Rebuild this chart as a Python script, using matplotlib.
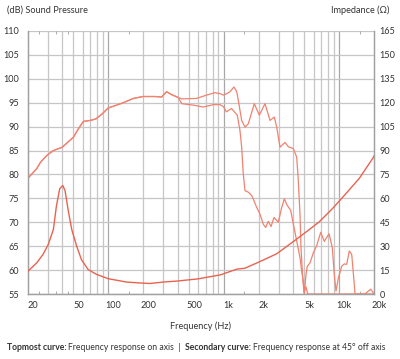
import matplotlib
matplotlib.use("Agg")
import matplotlib.pyplot as plt
import matplotlib.transforms as mtransforms
import numpy as np

# ---------------- data ----------------
freq_on = [20, 24, 26, 29.5, 33.5, 40, 50, 55, 61, 70, 78, 88, 100, 118, 135, 165, 200, 253,
           290, 320, 353, 404, 433, 583, 712, 840, 928, 992, 1061, 1133, 1227, 1295, 1337,
           1430, 1528, 1632, 1839, 2032, 2276, 2516, 2740, 2876, 3070, 3392, 3622, 4004,
           4284, 4422, 4574, 4667, 4828, 4954, 5156, 5334, 20000]
spl_on = [79.1, 81.2, 82.6, 84.0, 85.0, 85.7, 87.8, 89.5, 91.1, 91.3, 91.6, 92.6, 93.9, 94.5,
          95.0, 95.9, 96.3, 96.3, 96.2, 97.3, 96.7, 96.1, 95.8, 95.9, 96.6, 97.1, 96.9, 96.6,
          96.9, 97.3, 98.3, 97.3, 95.5, 91.3, 89.9, 90.6, 94.8, 92.4, 94.8, 91.3, 92.0, 89.9,
          85.7, 86.7, 85.8, 85.4, 83.6, 78.7, 71.7, 64.7, 58.3, 55.3, 56.5, 55.0, 55.0]

freq_off = [20, 24, 26, 29.5, 33.5, 40, 50, 55, 61, 70, 78, 88, 100, 118, 135, 165, 200, 253,
            290, 320, 353, 404, 433, 545, 666, 812, 928, 992, 1055, 1168, 1310, 1382, 1430,
            1475, 1528, 1632, 1746, 1800, 1930, 2060, 2200, 2308, 2432, 2566, 2724, 2969,
            3176, 3346, 3552, 3800, 4060, 4284, 4574, 4732, 4888, 4984, 5156, 5292, 5584,
            5964, 6382, 6912, 7426, 8156, 8710, 9064, 9376, 9816, 10506, 11066, 11606, 12224,
            12824, 13426, 13696, 16714, 17850, 18726, 19800, 20000]
spl_off = [79.1, 81.2, 82.6, 84.0, 85.0, 85.7, 87.8, 89.5, 91.1, 91.3, 91.6, 92.6, 93.9, 94.5,
           95.0, 95.9, 96.3, 96.3, 96.2, 97.3, 96.7, 96.1, 94.8, 94.5, 94.1, 94.6, 94.6, 94.2,
           93.1, 93.8, 92.4, 89.2, 85.7, 80.2, 76.6, 76.3, 75.6, 74.9, 73.1, 71.7, 69.6, 68.9,
           70.2, 69.1, 71.0, 70.0, 73.1, 74.9, 73.5, 72.5, 68.9, 66.1, 62.6, 59.8, 57.7, 55.0,
           59.1, 60.8, 61.5, 63.6, 65.1, 67.9, 66.0, 67.6, 64.7, 59.1, 55.6, 58.3, 60.8, 61.3,
           61.2, 64.0, 63.3, 57.7, 55.0, 55.0, 55.6, 56.0, 55.2, 55.0]

freq_imp = [20, 24, 27.3, 30.3, 33.5, 35.6, 38, 40.4, 42.3, 45.1, 48.3, 53.3, 58.6, 67, 79.3,
            100, 144, 189, 230, 300, 393, 600, 935, 1300, 1530, 2065, 2870, 3970, 5185, 6720,
            8770, 11440, 14940, 19800, 20000]
imp_ohm = [14, 19.5, 24.9, 31.2, 40.5, 55.2, 66, 68.1, 64.8, 52.2, 40.5, 30, 21.6, 15.3, 12.3,
           9.6, 7.5, 6.9, 6.6, 7.5, 8.1, 9.5, 12.0, 15.6, 16.2, 20.4, 25.2, 32.7, 39, 45.3,
           53.7, 63, 72.6, 85.8, 86.5]

x_ticks = [20, 50, 100, 200, 500, 1000, 2000, 5000, 10000, 20000]
x_ticklabels = ["20", "50", "100", "200", "500", "1k", "2k", "5k", "10k", "20k"]
db_ticks = [55, 60, 65, 70, 75, 80, 85, 90, 95, 100, 105, 110]
ohm_ticks = [0, 15, 30, 45, 60, 75, 90, 105, 120, 135, 150, 165]

# ---------------- style ----------------
plt.rcParams['font.family'] = ['Lato', 'DejaVu Sans']
TXT = '#333333'
CURVE = '#f08270'
IMP = '#e8634f'
GRID = '#c6c6c6'
GRID_DEC = '#a8a8a8'
FS = 6.6

fig = plt.figure(figsize=(4.0, 3.59), dpi=100)
L, R, T, B = 27.5, 374, 31, 294
ax = fig.add_axes([L / 400, (359 - B) / 359, (R - L) / 400, (B - T) / 359])
ax.set_xscale('log')
ax.set_xlim(20, 20000)
ax.set_ylim(55, 110)

# grid
minor_grid = [f * m for f in (10, 100, 1000, 10000) for m in range(2, 10)]
for f in minor_grid:
    if 20 < f < 20000:
        ax.axvline(f, color=GRID, lw=0.9, zorder=0)
for f in (100, 1000, 10000):
    ax.axvline(f, color=GRID_DEC, lw=0.9, zorder=0)
for d in db_ticks:
    ax.axhline(d, color=GRID, lw=0.9, zorder=0)

ax.plot(freq_off, spl_off, color=CURVE, lw=0.9, zorder=3)
ax.plot(freq_on, spl_on, color=CURVE, lw=0.9, zorder=3)

ax2 = ax.twinx()
ax2.set_ylim(0, 165)
ax2.plot(freq_imp, imp_ohm, color=IMP, lw=1.0, zorder=3)

for a in (ax, ax2):
    for s in a.spines.values():
        s.set_color('#a0a0a0')
        s.set_linewidth(0.9)
    a.spines['top'].set_visible(False)

ax.set_xticks(x_ticks)
ax.set_xticklabels(x_ticklabels)
ax.xaxis.set_minor_locator(matplotlib.ticker.FixedLocator([25, 35, 45, 150, 1500, 15000]))
ax.xaxis.set_minor_formatter(matplotlib.ticker.NullFormatter())
ax.tick_params(axis='x', which='major', length=0, pad=5, labelsize=FS, labelcolor=TXT)
ax.tick_params(axis='x', which='minor', length=2, direction='in', color='#a0a0a0',
               top=True, bottom=True)
ax.set_yticks(db_ticks)
ax.tick_params(axis='y', length=0, pad=6, labelsize=FS, labelcolor=TXT)
ax2.set_yticks(ohm_ticks)
ax2.tick_params(axis='y', length=0, pad=4, labelsize=FS, labelcolor=TXT)

offset = mtransforms.ScaledTranslation(5 / 100, 0, fig.dpi_scale_trans)
for lab in ax.get_xticklabels():
    lab.set_transform(lab.get_transform() + offset)

ax.set_xlabel('Frequency (Hz)', fontsize=FS, color=TXT, labelpad=8)

fig.text(7 / 400, 1 - 10 / 359, '(dB) Sound Pressure', fontsize=FS, color=TXT,
         ha='left', va='center')
fig.text(389 / 400, 1 - 10 / 359, 'Impedance (\u03a9)', fontsize=FS, color=TXT,
         ha='right', va='center')

cap_y = 1 - 347 / 359
CFS = 6.2
t1 = fig.text(7 / 400, cap_y, 'Topmost curve:', fontsize=CFS, color=TXT, weight='bold',
              ha='left', va='center')
fig.canvas.draw()
r = fig.canvas.get_renderer()
bb = t1.get_window_extent(r)
t2 = fig.text(bb.x1 / 400 + 0.004, cap_y, 'Frequency response on axis  |  ', fontsize=CFS,
              color=TXT, ha='left', va='center')
bb = t2.get_window_extent(r)
t3 = fig.text(bb.x1 / 400, cap_y, 'Secondary curve:', fontsize=CFS, color=TXT,
              weight='bold', ha='left', va='center')
bb = t3.get_window_extent(r)
fig.text(bb.x1 / 400 + 0.004, cap_y, 'Frequency response at 45\u00b0 off axis', fontsize=CFS,
         color=TXT, ha='left', va='center')

fig.savefig('out.png', dpi=100)
